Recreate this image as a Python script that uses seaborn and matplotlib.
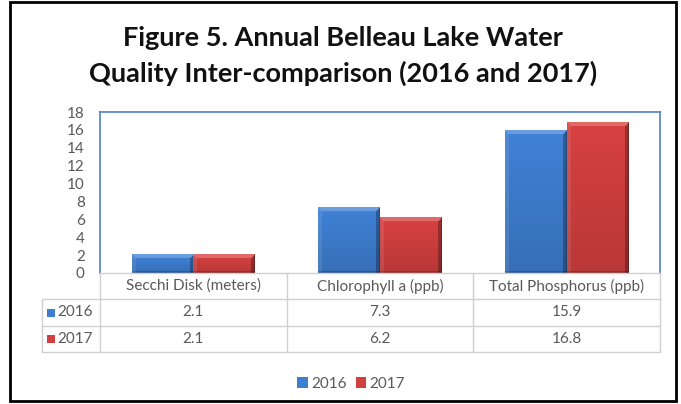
import numpy as np
import pandas as pd
import matplotlib
matplotlib.use("Agg")
import matplotlib.pyplot as plt
import matplotlib.transforms as mtrans
from matplotlib.patches import Rectangle
from matplotlib.lines import Line2D
import matplotlib.colors as mcolors
import seaborn as sns

# ---------------- data ----------------
categories = ["Secchi Disk (meters)", "Chlorophyll a (ppb)", "Total Phosphorus (ppb)"]
years = ["2016", "2017"]
values_2016 = [2.1, 7.3, 15.9]
values_2017 = [2.1, 6.2, 16.8]
yticks = [0, 2, 4, 6, 8, 10, 12, 14, 16, 18]
title = "Figure 5. Annual Belleau Lake Water\nQuality Inter-comparison (2016 and 2017)"

# ---------------- style ----------------
sns.set_theme(style="white")
plt.rcParams['font.family'] = ['Lato', 'DejaVu Sans']

BLUE = "#3E7ED0"
RED = "#D23F3F"
GRID = "#D0D0D0"
TXT = "#595959"
AXBLUE = "#4F81BD"

W, H = 681, 404
fig = plt.figure(figsize=(W / 100, H / 100), dpi=100)


def fx(px):
    return px / W


def fy(py):
    return 1 - py / H


ax = fig.add_axes([fx(100), fy(273), fx(660) - fx(100), fy(112) - fy(273)])

df = pd.DataFrame({
    "category": categories * 2,
    "year": [y for y in years for _ in categories],
    "value": values_2016 + values_2017,
})
sns.barplot(data=df, x="category", y="value", hue="year", order=categories,
            hue_order=years, palette=[BLUE, RED], width=0.66, saturation=1,
            ax=ax, legend=False, edgecolor="none", linewidth=0, err_kws={'linewidth': 0})

ax.set_xlim(-0.5, 2.5)
ax.set_ylim(0, 18)
ax.set_yticks(yticks)
ax.set_yticklabels([str(t) for t in yticks])
ax.set_xticks([])
ax.set_xlabel("")
ax.set_ylabel("")
ax.tick_params(axis="y", length=0, pad=11, labelsize=11, labelcolor=TXT)
for s in ["left", "top", "right"]:
    ax.spines[s].set_color(AXBLUE)
    ax.spines[s].set_linewidth(1.2)
ax.spines["bottom"].set_color(GRID)
ax.spines["bottom"].set_linewidth(1)

# bevel shading on bars
fig.canvas.draw()
for p in list(ax.patches):
    x0, y0 = p.get_x(), p.get_y()
    w, h = p.get_width(), p.get_height()
    if h <= 0:
        continue
    fc = np.array(mcolors.to_rgb(p.get_facecolor()))
    (px0, py0), (px1, py1) = ax.transData.transform([(x0, y0), (x0 + w, y0 + h)])
    nw, nh = max(int(round(px1 - px0)), 2), max(int(round(py1 - py0)), 2)
    img = np.tile(fc, (nh, nw, 1)).astype(float)
    vg = np.linspace(1.03, 0.88, nh)[:, None, None]
    img = img * vg
    bev = 4
    yy, xx = np.mgrid[0:nh, 0:nw]
    top = (yy < bev) & (xx >= yy) & (xx < nw - yy)
    right = (xx >= nw - bev) & ~top
    left = (xx < bev) & ~top
    bottom = yy >= nh - 2
    img[left] = img[left] * 0.88 + 0.1
    img[top] = img[top] * 0.78 + 0.22
    img[right] = img[right] * 0.72
    img[bottom] = img[bottom] * 0.8
    img[:, -1, :] *= 0.8
    img = np.clip(img, 0, 1)
    ax.imshow(img, extent=(x0, x0 + w, y0, y0 + h), aspect="auto",
              origin="upper", zorder=p.get_zorder() + 0.1, interpolation="bilinear")
ax.set_xlim(-0.5, 2.5)
ax.set_ylim(0, 18)

# ---------------- data table ----------------
fig_tr = fig.transFigure


def hline(x0, x1, y):
    fig.add_artist(Line2D([fx(x0), fx(x1)], [fy(y), fy(y)], color=GRID, lw=1, transform=fig_tr))


def vline(x, y0, y1):
    fig.add_artist(Line2D([fx(x), fx(x)], [fy(y0), fy(y1)], color=GRID, lw=1, transform=fig_tr))


hline(42, 660, 299)
hline(42, 660, 326)
hline(42, 660, 352)
vline(42, 299, 352)
vline(100, 273, 352)
vline(287, 273, 352)
vline(473, 273, 352)
vline(660, 273, 352)

blend = mtrans.blended_transform_factory(ax.transData, fig_tr)
row_y = {"header": 286, "2016": 312.5, "2017": 339}
for i, c in enumerate(categories):
    fig.text(i, fy(row_y["header"]), c, transform=blend, ha="center", va="center",
             fontsize=11, color=TXT)
    fig.text(i, fy(row_y["2016"]), f"{values_2016[i]:.1f}", transform=blend, ha="center",
             va="center", fontsize=11, color=TXT)
    fig.text(i, fy(row_y["2017"]), f"{values_2017[i]:.1f}", transform=blend, ha="center",
             va="center", fontsize=11, color=TXT)

for yr, col in zip(years, [BLUE, RED]):
    yc = row_y[yr]
    fig.add_artist(Rectangle((fx(47), fy(yc + 4)), fx(8) - fx(0), fy(0) - fy(8),
                             facecolor=col, edgecolor="none", transform=fig_tr))
    fig.text(fx(57), fy(yc), yr, ha="left", va="center", fontsize=11, color=TXT)

# ---------------- legend ----------------
handles = [Rectangle((0, 0), 1, 1, facecolor=BLUE, edgecolor="none"),
           Rectangle((0, 0), 1, 1, facecolor=RED, edgecolor="none")]
fig.legend(handles, years, loc="center", bbox_to_anchor=(fx(351), fy(384)), ncol=2,
           frameon=False, handlelength=0.7, handleheight=0.7, handletextpad=0.2,
           columnspacing=0.6, fontsize=11, labelcolor=TXT)

# ---------------- title ----------------
fig.text(fx(343), fy(56), title, ha="center", va="center", fontsize=19.5,
         fontweight="bold", color="#111111", linespacing=1.55)

# ---------------- outer frame ----------------
fig.add_artist(Rectangle((fx(10), fy(401)), fx(676) - fx(10), fy(2) - fy(401),
                         facecolor="none", edgecolor="black", lw=2, transform=fig_tr))

fig.savefig("out.png", dpi=100)
